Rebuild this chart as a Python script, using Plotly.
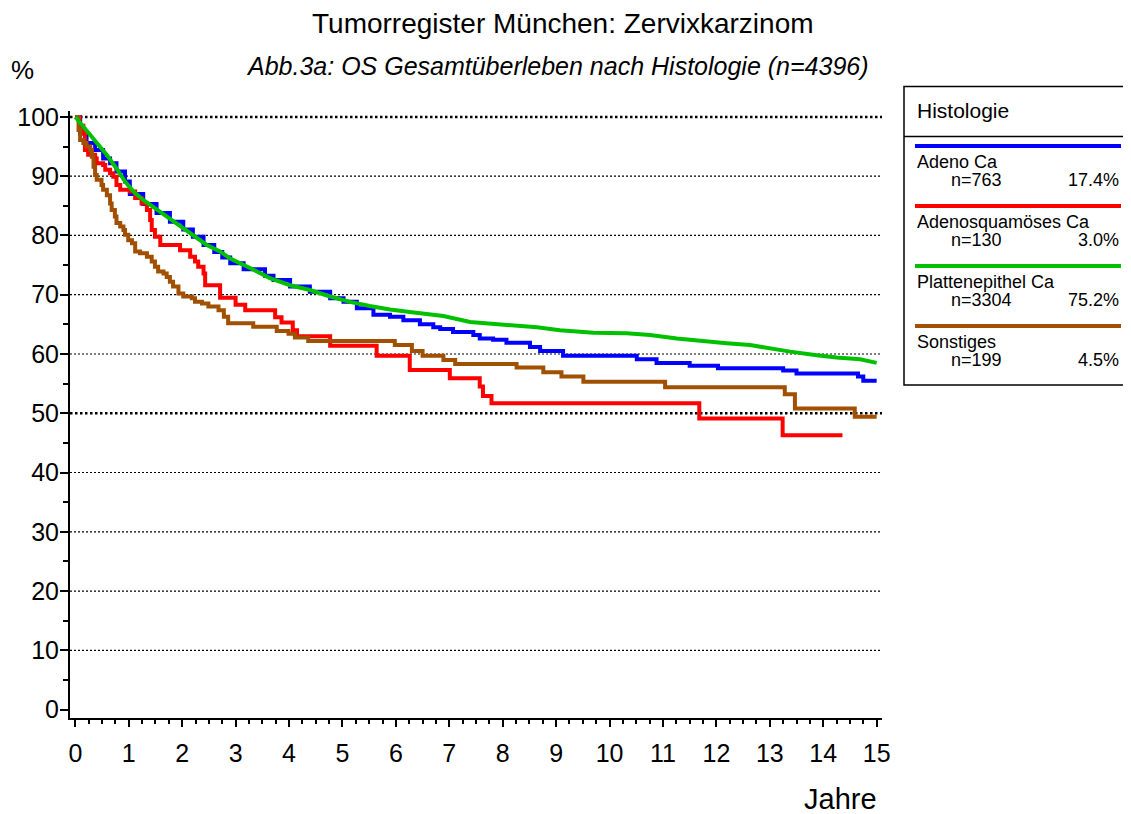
import plotly.graph_objects as go

# ---------------- data ----------------
SERIES_NAMES = ["Adeno Ca", "Adenosquamöses Ca", "Plattenepithel Ca", "Sonstiges"]
SERIES_N = ["n=763", "n=130", "n=3304", "n=199"]
SERIES_PCT = ["17.4%", "3.0%", "75.2%", "4.5%"]
SERIES_COLORS = ["#0000FF", "#FF0000", "#00C000", "#A05000"]

ADENO_T = [0, 0.09, 0.21, 0.37, 0.52, 0.65, 0.77, 0.93, 1.02, 1.27, 1.52, 1.77, 2.02, 2.2,
           2.4, 2.6, 2.75, 2.9, 3.15, 3.55, 3.71, 4.02, 4.39, 4.77, 5.02, 5.27, 5.58, 5.89,
           6.14, 6.45, 6.70, 6.83, 7.07, 7.45, 7.57, 7.82, 8.07, 8.51, 8.70, 9.13, 10.51,
           10.88, 11.50, 12.03, 13.25, 13.50, 14.65, 14.75, 15.0]
ADENO_S = [100, 97.2, 95.6, 94.4, 93.0, 92.2, 90.8, 89.1, 87.0, 85.3, 83.8, 82.3, 81.0, 79.8,
           78.4, 77.2, 76.3, 75.3, 74.3, 73.2, 72.5, 71.4, 70.5, 69.4, 68.8, 67.7, 66.6, 66.3,
           65.7, 65.0, 64.5, 64.2, 63.7, 63.2, 62.6, 62.4, 61.9, 61.2, 60.5, 59.7, 59.1,
           58.5, 58.0, 57.6, 57.2, 56.7, 56.2, 55.5, 55.5]

ADENOSQ_T = [0, 0.08, 0.15, 0.18, 0.24, 0.37, 0.40, 0.52, 0.56, 0.65, 0.71, 0.77, 0.84, 1.02,
             1.12, 1.24, 1.34, 1.40, 1.43, 1.49, 1.59, 1.96, 2.15, 2.24, 2.30, 2.40, 2.43,
             2.71, 3.00, 3.18, 3.74, 3.86, 4.07, 4.15, 4.77, 5.64, 6.26, 7.01, 7.57, 7.63,
             7.79, 11.68, 13.24, 14.36]
ADENOSQ_S = [100, 98.5, 97.2, 94.4, 93.6, 93.0, 92.2, 91.9, 91.1, 90.5, 89.9, 88.5, 87.7, 87.4,
             86.3, 85.4, 84.3, 82.6, 80.9, 79.8, 78.4, 77.5, 76.4, 75.6, 74.7, 73.6, 71.6,
             69.5, 68.3, 67.4, 66.2, 65.3, 64.0, 63.0, 61.4, 59.7, 57.3, 55.9, 54.5, 52.9,
             51.7, 49.1, 46.3, 46.3]

PLATTEN_T = [0, 0.18, 0.40, 0.59, 0.77, 0.93, 1.09, 1.27, 1.49, 1.71, 1.96, 2.21, 2.46, 2.71,
             2.90, 3.27, 3.64, 4.02, 4.39, 4.77, 5.14, 5.51, 5.89, 6.26, 6.64, 6.89, 7.39,
             8.01, 8.64, 9.07, 9.70, 10.32, 10.76, 11.26, 11.69, 12.19, 12.63, 12.94, 13.38,
             13.88, 14.25, 14.69, 15.0]
PLATTEN_S = [100, 98.1, 95.8, 93.6, 91.3, 89.1, 87.4, 86.0, 84.6, 83.2, 81.5, 80.1, 78.4, 77.3,
             76.1, 74.5, 72.8, 71.6, 70.8, 69.7, 68.8, 68.1, 67.5, 67.1, 66.6, 66.4, 65.4,
             65.0, 64.5, 64.0, 63.6, 63.5, 63.2, 62.6, 62.2, 61.8, 61.5, 61.0, 60.4,
             59.8, 59.4, 59.1, 58.5]

SONST_T = [0, 0.06, 0.09, 0.15, 0.21, 0.28, 0.31, 0.34, 0.37, 0.40, 0.49, 0.52, 0.59, 0.65,
           0.68, 0.74, 0.77, 0.84, 0.90, 0.93, 0.99, 1.06, 1.12, 1.21, 1.34, 1.43, 1.49, 1.55,
           1.65, 1.71, 1.77, 1.83, 1.93, 2.02, 2.18, 2.24, 2.37, 2.49, 2.68, 2.78, 2.86,
           3.33, 3.77, 3.99, 4.11, 4.36, 5.98, 6.30, 6.50, 6.89, 7.11, 8.26, 8.76, 9.10,
           9.51, 11.04, 13.28, 13.47, 14.59, 15.0]
SONST_S = [100, 97.8, 96.1, 95.6, 95.0, 94.4, 93.3, 91.6, 90.2, 89.4, 88.5, 87.7, 86.8, 85.4,
           84.3, 83.2, 82.1, 81.5, 80.9, 80.1, 79.2, 78.7, 77.3, 77.0, 76.4, 75.6, 74.7, 73.9,
           73.6, 73.0, 72.2, 71.4, 70.2, 69.7, 69.4, 68.8, 68.5, 68.0, 67.4, 66.3, 65.2,
           64.6, 63.9, 63.4, 62.8, 62.2, 61.5, 60.5, 59.7, 59.0, 58.3, 57.7, 56.9, 56.2,
           55.3, 54.4, 53.2, 50.8, 49.4, 49.4]

SERIES_T = [ADENO_T, ADENOSQ_T, PLATTEN_T, SONST_T]
SERIES_S = [ADENO_S, ADENOSQ_S, PLATTEN_S, SONST_S]
SERIES_SHAPE = ["hv", "hv", "linear", "hv"]

X_TICKS = list(range(0, 16))
Y_TICKS = list(range(0, 101, 10))
GRID_LEVELS = list(range(10, 101, 10))
HEAVY_LEVELS = [50, 100]

TITLE = "Tumorregister München: Zervixkarzinom"
SUBTITLE = "Abb.3a: OS Gesamtüberleben nach Histologie (n=4396)"
LEGEND_TITLE = "Histologie"

# ---------------- layout geometry ----------------
OFF = 8                      # page body margin of the html page
W, H = 1131 - OFF, 814 - OFF
ML, MR, MT, MB = 70 - OFF, 249, 111 - OFF, 96
PW = W - ML - MR
PH = H - MT - MB
FONT = "Liberation Sans, Arial, sans-serif"


def px(x):
    """window pixel x -> paper coordinate"""
    return (x - OFF - ML) / PW


def py(y):
    """window pixel y -> paper coordinate"""
    return (H - MB - (y - OFF)) / PH


fig = go.Figure()
order = [0, 1, 3, 2]
for i in order:
    fig.add_trace(go.Scatter(
        x=SERIES_T[i], y=SERIES_S[i], mode="lines",
        line=dict(color=SERIES_COLORS[i], width=4, shape=SERIES_SHAPE[i]),
        name=SERIES_NAMES[i], showlegend=False, hoverinfo="skip"))

shapes = []
for lv in GRID_LEVELS:
    heavy = lv in HEAVY_LEVELS
    shapes.append(dict(type="line", xref="paper", yref="y", x0=0, x1=1, y0=lv, y1=lv,
                       layer="below",
                       line=dict(color="black", width=2.5 if heavy else 1.2,
                                 dash="2.5px,2.5px" if heavy else "2px,2px")))

# legend box
shapes.append(dict(type="rect", xref="paper", yref="paper",
                   x0=px(904), x1=px(1129), y0=py(385), y1=py(86.5),
                   line=dict(color="black", width=1.5), fillcolor="white"))
shapes.append(dict(type="line", xref="paper", yref="paper",
                   x0=px(904), x1=px(1129), y0=py(136.5), y1=py(136.5),
                   line=dict(color="black", width=1.5)))

annotations = [
    dict(text=TITLE, x=px(563), y=py(23), xref="paper", yref="paper", showarrow=False,
         xanchor="center", yanchor="middle", font=dict(family=FONT, size=28, color="black")),
    dict(text="<i>" + SUBTITLE + "</i>", x=px(557), y=py(66), xref="paper", yref="paper",
         showarrow=False, xanchor="center", yanchor="middle",
         font=dict(family=FONT, size=25, color="black")),
    dict(text="%", x=px(22), y=py(70), xref="paper", yref="paper", showarrow=False,
         xanchor="center", yanchor="middle", font=dict(family=FONT, size=26, color="black")),
    dict(text="Jahre", x=px(879), y=py(799), xref="paper", yref="paper", showarrow=False,
         xanchor="right", yanchor="middle", font=dict(family=FONT, size=29, color="black")),
    dict(text=LEGEND_TITLE, x=px(915), y=py(110), xref="paper", yref="paper", showarrow=False,
         xanchor="left", yanchor="middle", font=dict(family=FONT, size=21, color="black")),
]

for k in range(len(SERIES_NAMES)):
    y_line = 146 + 60 * k
    shapes.append(dict(type="line", xref="paper", yref="paper",
                       x0=px(915), x1=px(1121), y0=py(y_line), y1=py(y_line),
                       line=dict(color=SERIES_COLORS[k], width=4)))
    annotations.append(dict(text=SERIES_NAMES[k], x=px(915), y=py(y_line + 16), xref="paper",
                            yref="paper", showarrow=False, xanchor="left", yanchor="middle",
                            font=dict(family=FONT, size=18, color="black")))
    annotations.append(dict(text=SERIES_N[k], x=px(949), y=py(y_line + 34), xref="paper",
                            yref="paper", showarrow=False, xanchor="left", yanchor="middle",
                            font=dict(family=FONT, size=18, color="black")))
    annotations.append(dict(text=SERIES_PCT[k], x=px(1121), y=py(y_line + 34), xref="paper",
                            yref="paper", showarrow=False, xanchor="right", yanchor="middle",
                            font=dict(family=FONT, size=18, color="black")))

fig.update_layout(
    width=W, height=H, autosize=False,
    margin=dict(l=ML, r=MR, t=MT, b=MB, pad=0, autoexpand=False),
    paper_bgcolor="white", plot_bgcolor="white",
    showlegend=False,
    shapes=shapes, annotations=annotations,
    font=dict(family=FONT, color="black"),
)
fig.update_xaxes(
    range=[-0.1, 15.1], tickvals=X_TICKS, ticktext=[str(v) for v in X_TICKS],
    automargin=False,
    showgrid=False, zeroline=False, showline=True, linecolor="black", linewidth=2,
    ticks="outside", ticklen=7, tickwidth=1.5, tickcolor="black",
    tickfont=dict(family=FONT, size=25, color="black"), ticklabelstandoff=5,
    minor=dict(dtick=0.25, tick0=0, ticks="outside", ticklen=4, tickwidth=1.5,
               tickcolor="black", showgrid=False),
)
fig.update_yaxes(
    range=[-1.42, 101.0], tickvals=Y_TICKS, ticktext=[str(v) for v in Y_TICKS],
    automargin=False,
    showgrid=False, zeroline=False, showline=True, linecolor="black", linewidth=2,
    ticks="outside", ticklen=8, tickwidth=1.5, tickcolor="black",
    tickfont=dict(family=FONT, size=25, color="black"), ticklabelstandoff=-4,
    minor=dict(dtick=5, tick0=0, ticks="outside", ticklen=5, tickwidth=1.5,
               tickcolor="black", showgrid=False),
)

fig.write_html("out.html")
